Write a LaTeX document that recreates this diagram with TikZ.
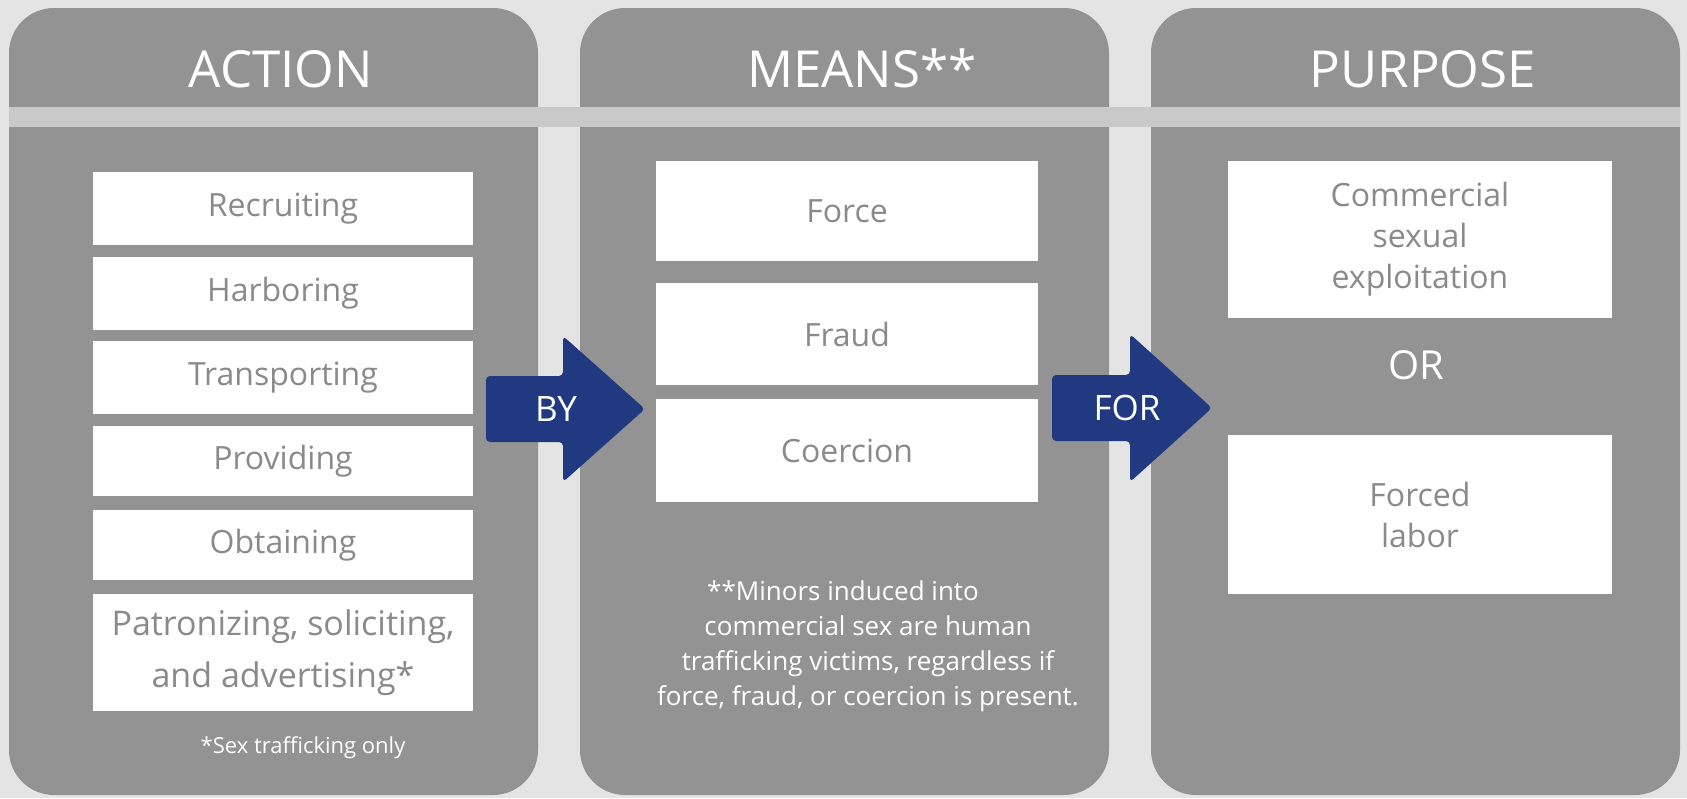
\documentclass[tikz,border=0pt]{standalone}
\usepackage{fontspec}
\setmainfont{Open Sans}
\usepackage{tikz}

\definecolor{bggray}{RGB}{228,228,228}
\definecolor{panelgray}{RGB}{147,147,147}
\definecolor{bandgray}{RGB}{201,201,201}
\definecolor{textgray}{RGB}{138,138,138}
\definecolor{navy}{RGB}{33,57,128}

\tikzset{
	panel/.style={fill=panelgray, rounded corners=45pt},
	itembox/.style={fill=white, text=textgray, align=center, inner sep=0pt, font=\fontsize{32}{41}\selectfont},
	headtext/.style={text=white, anchor=base, font=\fontsize{51}{58}\selectfont},
	whitetext/.style={text=white, align=center, font=\fontsize{26}{35}\selectfont},
	arrowtext/.style={text=white, font=\fontsize{35}{40}\selectfont},
	bigarrow/.style={fill=navy, rounded corners=4pt}
}

\begin{document}
\begin{tikzpicture}[x=1pt, y=-1pt]
		\fill[bggray] (0,0) rectangle (1687,798);
		\useasboundingbox (0,0) rectangle (1687,798);
		\fill[panel] (9,8) rectangle (538,795);
		\fill[panel] (580,8) rectangle (1109,795);
		\fill[panel] (1151,8) rectangle (1680,795);
		\fill[bandgray] (9,107) rectangle (1680,127);
		\node[headtext] (action) at (281,87) {ACTION};
		\node[headtext] (means) at (862,87) {MEANS**};
		\node[headtext] (purpose) at (1423,87) {PURPOSE};
		\node[itembox, minimum width=380pt, minimum height=73pt] (recruit) at (283,208.5) {Recruiting};
		\node[itembox, minimum width=380pt, minimum height=73pt] (harbor) at (283,293.5) {Harboring};
		\node[itembox, minimum width=380pt, minimum height=73pt] (transport) at (283,377.5) {Transporting};
		\node[itembox, minimum width=380pt, minimum height=70pt] (provide) at (283,461) {Providing};
		\node[itembox, minimum width=380pt, minimum height=70pt] (obtain) at (283,545) {Obtaining};
		\node[itembox, minimum width=380pt, minimum height=117pt, font=\fontsize{34}{52}\selectfont] (patron) at (283,652.5) {Patronizing, soliciting,\\and advertising*};
		\node[whitetext, font=\fontsize{22}{30}\selectfont] (sexonly) at (303,748) {*Sex trafficking only};
		\node[itembox, minimum width=382pt, minimum height=100pt] (force) at (847,211) {Force};
		\node[itembox, minimum width=382pt, minimum height=102pt] (fraud) at (847,334) {Fraud};
		\node[itembox, minimum width=382pt, minimum height=103pt] (coercion) at (847,450.5) {Coercion};
		\node[whitetext] (minors) at (868,646) {**Minors induced into\hspace*{50pt}\\commercial sex are human\\trafficking victims, regardless if\\force, fraud, or coercion is present.};
		\node[itembox, minimum width=384pt, minimum height=157pt] (sexual) at (1420,239.5) {Commercial\\sexual\\exploitation};
		\node[text=white, font=\fontsize{40}{44}\selectfont] (or) at (1416,365) {OR};
		\node[itembox, minimum width=384pt, minimum height=159pt] (labor) at (1420,514.5) {Forced\\labor};
		\fill[bigarrow] (486,376) -- (563,376) -- (563,336) -- (645,409) -- (563,482) -- (563,442) -- (486,442) -- cycle;
		\node[arrowtext] (by) at (556,409) {BY};
		\fill[bigarrow] (1052,375) -- (1130,375) -- (1130,334) -- (1212,408) -- (1130,482) -- (1130,441) -- (1052,441) -- cycle;
		\node[arrowtext] (for) at (1127,408) {FOR};
	\end{tikzpicture}
\end{document}
